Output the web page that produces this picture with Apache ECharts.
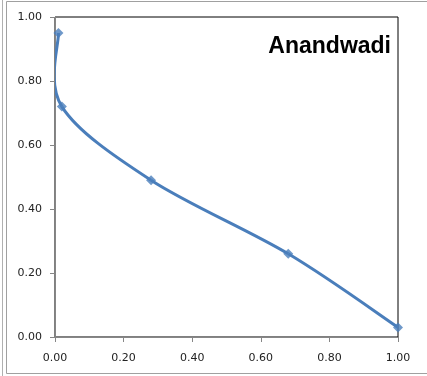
<!DOCTYPE html>
<html>
<head>
<meta charset="utf-8">
<script src="https://cdn.jsdelivr.net/npm/echarts@6/dist/echarts.min.js"></script>
<style>
  html, body { margin: 0; padding: 0; background: #fff; }
  #chart { width: 427px; height: 376px; }
</style>
</head>
<body>
<div id="chart"></div>
<script>
// Anandwadi curve: x and y values of each measured point
const xValues = [0.01, 0.02, 0.28, 0.68, 1.00];
const yValues = [0.95, 0.72, 0.49, 0.26, 0.03];
const titleText = 'Anandwadi';

const points = xValues.map((x, i) => [x, yValues[i]]);
const labelFmt = v => v.toFixed(2);
const lineColor = '#4a7ebb';

// Smoothed curve through the points (cardinal spline, tension 1/6, in pixel space)
function renderCurve(params, api) {
  if (params.dataIndex !== 0) return null;
  const px = points.map(p => api.coord(p));
  const n = px.length;
  const children = [];
  const k = 1 / 6;
  for (let i = 0; i < n - 1; i++) {
    const p0 = px[Math.max(i - 1, 0)];
    const p1 = px[i];
    const p2 = px[i + 1];
    const p3 = px[Math.min(i + 2, n - 1)];
    children.push({
      type: 'bezierCurve',
      shape: {
        x1: p1[0], y1: p1[1],
        cpx1: p1[0] + (p2[0] - p0[0]) * k,
        cpy1: p1[1] + (p2[1] - p0[1]) * k,
        cpx2: p2[0] - (p3[0] - p1[0]) * k,
        cpy2: p2[1] - (p3[1] - p1[1]) * k,
        x2: p2[0], y2: p2[1]
      },
      style: { stroke: lineColor, fill: 'none', lineWidth: 3 }
    });
  }
  return { type: 'group', children };
}

const chart = echarts.init(document.getElementById('chart'));
chart.setOption({
  animation: false,
  backgroundColor: '#fff',
  graphic: [
    { type: 'line', shape: { x1: 2.5, y1: 0, x2: 2.5, y2: 376 }, style: { stroke: '#b0b0b0', lineWidth: 1 } },
    { type: 'rect', shape: { x: 6.5, y: 1.5, width: 430, height: 372 }, style: { fill: 'none', stroke: '#a0a0a0', lineWidth: 1 } }
  ],
  title: {
    text: titleText,
    right: 31,
    top: 30,
    textStyle: { fontFamily: 'Liberation Sans', fontWeight: 'bold', fontSize: 23, color: '#000' }
  },
  grid: { left: 55, right: 29, top: 17, bottom: 39, show: true, borderColor: '#000', borderWidth: 1 },
  xAxis: {
    type: 'value', min: 0, max: 1, interval: 0.2,
    axisLine: { show: true, onZero: false, lineStyle: { color: '#868686' } },
    axisTick: { show: true, length: 5, lineStyle: { color: '#868686' } },
    axisLabel: { formatter: labelFmt, color: '#222', fontFamily: 'DejaVu Sans', fontSize: 11, margin: 16 },
    splitLine: { show: false }
  },
  yAxis: {
    type: 'value', min: 0, max: 1, interval: 0.2,
    axisLine: { show: true, onZero: false, lineStyle: { color: '#868686' } },
    axisTick: { show: true, length: 5, lineStyle: { color: '#868686' } },
    axisLabel: { formatter: labelFmt, color: '#222', fontFamily: 'DejaVu Sans', fontSize: 11, margin: 13 },
    splitLine: { show: false }
  },
  series: [
    {
      type: 'custom',
      data: points,
      renderItem: renderCurve,
      clip: true,
      silent: true,
      z: 2
    },
    {
      type: 'scatter',
      data: points,
      symbol: 'diamond',
      symbolSize: 10,
      itemStyle: { color: lineColor },
      z: 3
    }
  ]
});
</script>
</body>
</html>
